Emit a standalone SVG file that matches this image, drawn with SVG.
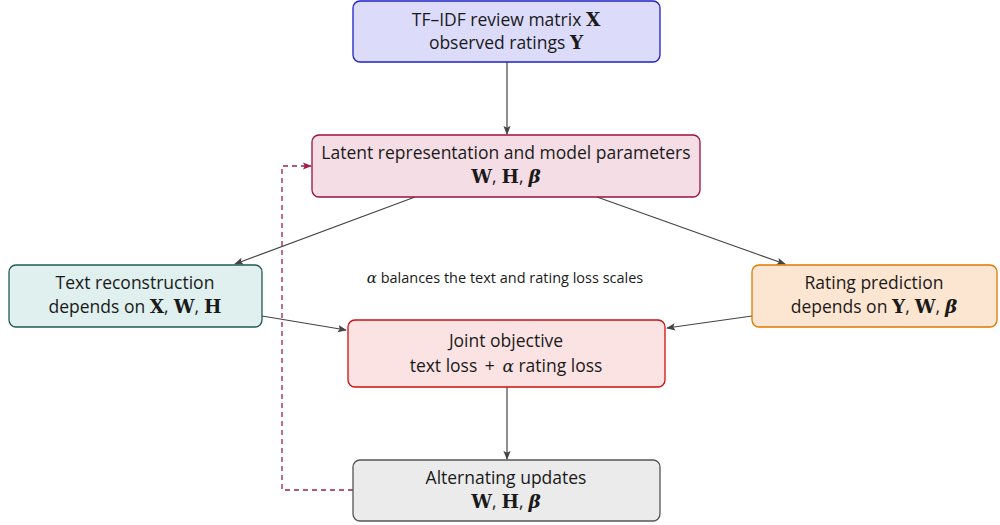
<svg xmlns="http://www.w3.org/2000/svg" width="1000" height="525" viewBox="0 0 1000 525">
<defs>
<style>
.t{font-family:"Open Sans","DejaVu Sans",sans-serif;font-size:17.5px;fill:#1a1a1a;text-anchor:middle}
.m{font-family:"DejaVu Serif","Liberation Serif",serif;font-weight:bold;font-size:18.5px}
.mi{font-family:"DejaVu Serif","Liberation Serif",serif;font-style:italic;font-size:17px}
.n{stroke-width:1.3}
.c{stroke:#444;stroke-width:1.2;fill:none}
</style>
<marker id="a" viewBox="0 0 10 10" refX="9" refY="5" markerWidth="9" markerHeight="9" markerUnits="userSpaceOnUse" orient="auto"><path d="M0,1 L10,5 L0,9 L2,5 Z" fill="#444"/></marker>
<marker id="ad" viewBox="0 0 10 10" refX="9" refY="5" markerWidth="9" markerHeight="9" markerUnits="userSpaceOnUse" orient="auto"><path d="M0,1 L10,5 L0,9 L2,5 Z" fill="#a0204a"/></marker>
</defs>
<g id="connectors">
<line class="c" x1="507" y1="62" x2="507" y2="134" marker-end="url(#a)"/>
<line class="c" x1="415" y1="197" x2="235" y2="264" marker-end="url(#a)"/>
<line class="c" x1="597" y1="197" x2="785" y2="264" marker-end="url(#a)"/>
<line class="c" x1="262" y1="316" x2="346" y2="330" marker-end="url(#a)"/>
<line class="c" x1="752" y1="316" x2="667" y2="328" marker-end="url(#a)"/>
<line class="c" x1="507" y1="387" x2="507" y2="459" marker-end="url(#a)"/>
<polyline points="353,490 282,490 282,166 311,166" fill="none" stroke="#a0204a" stroke-width="1.3" stroke-dasharray="5,4" marker-end="url(#ad)"/>
</g>
<g id="input">
<rect class="n" x="353" y="1" width="307" height="61" rx="7" fill="#dcdcfa" stroke="#1f1fc4"/>
<text class="t" x="506" y="26">TF–IDF review matrix <tspan class="m">X</tspan></text>
<text class="t" x="506" y="49">observed ratings <tspan class="m">Y</tspan></text>
</g>
<g id="latent">
<rect class="n" x="312" y="135" width="388" height="62" rx="7" fill="#f5dde5" stroke="#99123f"/>
<text class="t" x="506" y="183"><tspan class="m">W</tspan>,<tspan dx="5" class="m">H</tspan>,<tspan dx="5" class="m" font-style="italic">β</tspan></text>
<text class="t" x="506" y="159">Latent representation and model parameters</text>
</g>
<g id="text-recon">
<rect class="n" x="9" y="265" width="253" height="62" rx="7" fill="#dff0ee" stroke="#1f5a5a"/>
<text class="t" x="135" y="289">Text reconstruction</text>
<text class="t" x="135" y="313">depends on <tspan class="m">X</tspan>,<tspan dx="5" class="m">W</tspan>,<tspan dx="5" class="m">H</tspan></text>
</g>
<g id="rating">
<rect class="n" x="752" y="265" width="245" height="62" rx="7" fill="#fde6d1" stroke="#e07800"/>
<text class="t" x="874" y="289">Rating prediction</text>
<text class="t" x="874" y="313">depends on <tspan class="m">Y</tspan>,<tspan dx="5" class="m">W</tspan>,<tspan dx="5" class="m" font-style="italic">β</tspan></text>
</g>
<g id="note">
<text class="t" x="505" y="283" style="font-size:14.5px"><tspan class="mi" style="font-size:15px">α</tspan> balances the text and rating loss scales</text>
</g>
<g id="joint">
<rect class="n" x="348" y="320" width="317" height="67" rx="7" fill="#fce3e3" stroke="#cc1111"/>
<text class="t" x="506" y="347">Joint objective</text>
<text class="t" x="506" y="372">text loss <tspan dx="3">+</tspan><tspan dx="3"> </tspan><tspan class="mi">α</tspan> rating loss</text>
</g>
<g id="updates">
<rect class="n" x="353" y="460" width="307" height="61" rx="7" fill="#ebebeb" stroke="#555"/>
<text class="t" x="506" y="484">Alternating updates</text>
<text class="t" x="506" y="508"><tspan class="m">W</tspan>,<tspan dx="5" class="m">H</tspan>,<tspan dx="5" class="m" font-style="italic">β</tspan></text>
</g>
</svg>
